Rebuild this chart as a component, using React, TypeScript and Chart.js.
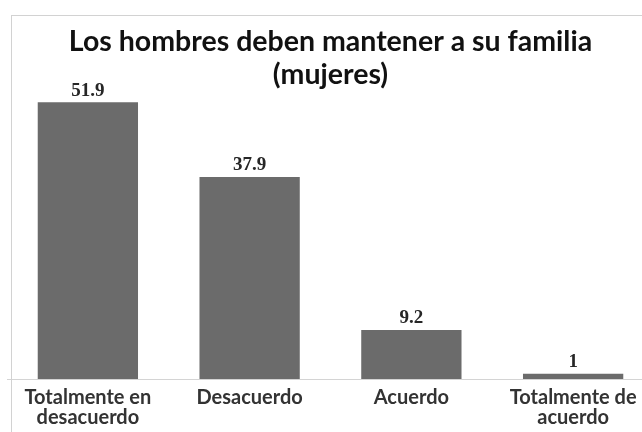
import React, { useEffect, useRef } from "react";
import { Chart, registerables } from "chart.js";

Chart.register(...registerables);

const categories: (string | string[])[] = [
  ["Totalmente en", "desacuerdo"],
  "Desacuerdo",
  "Acuerdo",
  ["Totalmente de", "acuerdo"],
];
const values: number[] = [51.9, 37.9, 9.2, 1];
const valueLabels: string[] = ["51.9", "37.9", "9.2", "1"];
const titleLines: string[] = ["Los hombres deben mantener a su familia", "(mujeres)"];

const valueLabelPlugin = {
  id: "valueLabels",
  afterDatasetsDraw(chart: any) {
    const ctx = chart.ctx;
    const meta = chart.getDatasetMeta(0);
    ctx.save();
    ctx.font = "bold 19px 'Liberation Serif', serif";
    ctx.fillStyle = "#262626";
    ctx.textAlign = "center";
    ctx.textBaseline = "bottom";
    meta.data.forEach((bar: any, i: number) => {
      ctx.fillText(valueLabels[i], bar.x, bar.y - 2);
    });
    ctx.restore();
  },
};

export default function App() {
  const ref = useRef<HTMLCanvasElement>(null);
  useEffect(() => {
    if (!ref.current) return;
    const chart = new Chart(ref.current, {
      type: "bar",
      data: {
        labels: categories,
        datasets: [
          {
            data: values,
            backgroundColor: "#6b6b6b",
            borderWidth: 0,
            categoryPercentage: 1,
            barPercentage: 0.62,
          },
        ],
      },
      options: {
        animation: false,
        responsive: false,
        maintainAspectRatio: false,
        layout: { padding: { left: 7, right: 6, top: 0, bottom: 13 } },
        plugins: {
          legend: { display: false },
          tooltip: { enabled: false },
          title: {
            display: true,
            text: titleLines,
            color: "#111111",
            font: { family: "Lato, 'Open Sans', sans-serif", size: 28.5, weight: "bold", lineHeight: 1.16 },
            padding: { top: 25, bottom: 0 },
          },
        },
        scales: {
          x: {
            grid: { display: false, drawTicks: false },
            border: { display: true, color: "#d4d4d4", width: 1 },
            ticks: {
              color: "#333333",
              padding: 9,
              maxRotation: 0,
              autoSkip: false,
              font: { family: "Lato, 'Open Sans', sans-serif", size: 20, weight: "bold", lineHeight: 1.0 },
            },
          },
          y: {
            display: false,
            min: 0,
            max: 54,
          },
        },
      },
      plugins: [valueLabelPlugin],
    });
    return () => chart.destroy();
  }, []);

  return (
    <div
      style={{
        position: "fixed",
        left: 0,
        top: 0,
        width: 642,
        height: 432,
        overflow: "hidden",
        background: "#ffffff",
      }}
    >
      <canvas
        ref={ref}
        width={660}
        height={450}
        style={{ position: "absolute", left: 0, top: 0, width: 660, height: 450 }}
      />
      <div
        style={{
          position: "absolute",
          left: 11,
          top: 15,
          width: 700,
          height: 500,
          borderLeft: "1px solid #d2d2d2",
          borderTop: "1px solid #d2d2d2",
          pointerEvents: "none",
        }}
      />
    </div>
  );
}
